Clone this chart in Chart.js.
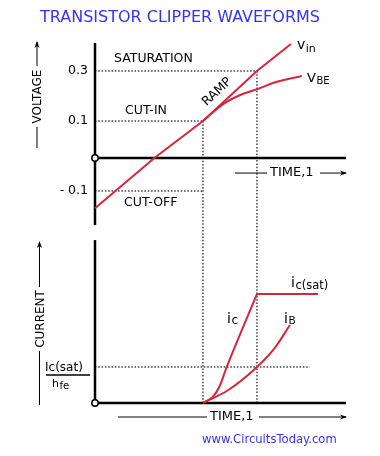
<!DOCTYPE html>
<html><head><meta charset="utf-8">
<script src="https://cdn.jsdelivr.net/npm/chart.js@4/dist/chart.umd.min.js"></script>
<style>
html,body{margin:0;padding:0;background:#fff;width:380px;height:456px;overflow:hidden;}
#wrap{position:relative;width:380px;height:456px;}
canvas{position:absolute;left:0;}
#c1{top:0;} #c2{top:232px;}
</style></head><body>
<div id="wrap">
<canvas id="c1" width="380" height="232"></canvas>
<canvas id="c2" width="380" height="224"></canvas>
</div>
<script>
// ---------- data (schematic units: time in arbitrary units, t1 = 2, t2 = 3) ----------
const timeEnd = 4.65;
const cutInTime = 2;          // t1 : vin reaches cut-in
const satTime = 3;            // t2 : vin reaches saturation
const voltTickValues = [0.3, 0.1, -0.1];
const voltTickLabels = ['0.3', '0.1', '- 0.1'];
const vinTime   = [0, 1.1, 2, 3, 3.63];
const vinValues = [-0.152, 0, 0.1, 0.3, 0.408];
const vbeTime   = [2, 2.38, 2.69, 3, 3.37, 3.83];
const vbeValues = [0.1, 0.168, 0.204, 0.227, 0.257, 0.28];
const icTime    = [2, 2.19, 2.31, 2.44, 3, 4.13];
const icValues  = [0, 0.06, 0.156, 0.33, 1, 1];
const ibTime    = [2, 2.47, 3, 3.35, 3.61];
const ibValues  = [0, 0.119, 0.33, 0.518, 0.716];
const icSatOverHfe = 0.33;    // Ic(sat)/hfe level (Ic(sat) = 1)
const hfeGuideEnd = 3.98;

const RED = '#d6263e', DOT = '#404040', BLUE = '#3434f0';
const FONT = '"DejaVu Sans", Verdana, sans-serif';

// ---------- schematic (piecewise-linear) voltage scale ----------
const LinearScale = Chart.LinearScale || Chart.registry.getScale('linear');
class SchematicScale extends LinearScale {
  warp(v) {
    const s = this.options.stops; let i = 0;
    if (v >= s[s.length-1][0]) i = s.length - 2;
    else if (v > s[0][0]) { while (v > s[i+1][0]) i++; }
    const [v0,p0] = s[i], [v1,p1] = s[i+1];
    return p0 + (v - v0) * (p1 - p0) / (v1 - v0);
  }
  unwarp(p) {
    const s = this.options.stops; let i = 0;
    if (p >= s[s.length-1][1]) i = s.length - 2;
    else if (p > s[0][1]) { while (p > s[i+1][1]) i++; }
    const [v0,p0] = s[i], [v1,p1] = s[i+1];
    return v0 + (p - p0) * (v1 - v0) / (p1 - p0);
  }
  determineDataLimits() { this.min = this.warp(this.options.min); this.max = this.warp(this.options.max); }
  buildTicks() { return (this.options.tickValues || []).map(v => ({value: v})); }
  getPixelForValue(v) { return (v === null || v === undefined) ? NaN : super.getPixelForValue(this.warp(v)); }
  getValueForPixel(p) { return this.unwarp(super.getValueForPixel(p)); }
}
SchematicScale.id = 'schematic';
SchematicScale.defaults = {};
Chart.register(SchematicScale);

const pts = (xs, ys) => xs.map((x, i) => ({x, y: ys[i]}));
function ds(data, color, width, extra) {
  return Object.assign({data, borderColor: color, backgroundColor: color, borderWidth: width,
    pointRadius: 0, fill: false, clip: false, tension: 0}, extra || {});
}
const guide = d => ds(d, DOT, 1.5, {borderDash: [1.5, 1.8], order: 4});
const axisLine = d => ds(d, '#000', 2.5, {order: 3});
const origin = () => ds([{x: 0, y: 0}], '#000', 1.5, {showLine: false, pointRadius: 3.2,
  pointBackgroundColor: '#fff', pointBorderColor: '#000', pointBorderWidth: 1.5, order: 0});

function arrowLine(ctx, x1, y1, x2, y2, head) {
  ctx.beginPath(); ctx.moveTo(x1, y1); ctx.lineTo(x2, y2); ctx.stroke();
  if (head) {
    const a = Math.atan2(y2 - y1, x2 - x1);
    ctx.save(); ctx.translate(x2, y2); ctx.rotate(a);
    ctx.beginPath(); ctx.moveTo(1, 0); ctx.lineTo(-6, -2.6); ctx.lineTo(-4, 0); ctx.lineTo(-6, 2.6); ctx.closePath(); ctx.fill();
    ctx.restore();
  }
}
function sub(ctx, x, y, main, mainSize, s, subSize, dy) {
  ctx.textAlign = 'left'; ctx.textBaseline = 'alphabetic';
  ctx.font = mainSize + 'px ' + FONT; ctx.fillText(main, x, y);
  const w = ctx.measureText(main).width;
  ctx.font = subSize + 'px ' + FONT; ctx.fillText(s, x + w + 0.5, y + dy);
}

const vMin = -0.224, vMax = 0.412, vAxisLow = -0.203;
const iMax = 1.569, iAxisTop = 1.495;

// ---------- top chart: voltage ----------
const topPlugin = {
  id: 'topLabels',
  afterDraw(chart) {
    const ctx = chart.ctx, X = t => chart.scales.x.getPixelForValue(t), Y = v => chart.scales.y.getPixelForValue(v);
    ctx.save();
    ctx.fillStyle = BLUE; ctx.font = '16px ' + FONT; ctx.textAlign = 'center'; ctx.textBaseline = 'middle';
    ctx.fillText('TRANSISTOR CLIPPER WAVEFORMS', 180, 18);
    ctx.fillStyle = '#000'; ctx.strokeStyle = '#000'; ctx.lineWidth = 1;
    ctx.font = '12.5px ' + FONT; ctx.textAlign = 'left';
    ctx.fillText('SATURATION', 114, Y(0.3) - 12);
    ctx.fillText('CUT-IN', 125, Y(0.1) - 10);
    ctx.fillText('CUT-OFF', 124, Y(-0.1) + 12);
    // TIME,1 arrow
    const ty = Y(0) + 15;
    ctx.font = '13px ' + FONT; ctx.fillText('TIME,1', 270, ty);
    arrowLine(ctx, 235, ty, 267, ty, false);
    arrowLine(ctx, 320, ty, 346, ty, true);
    // VOLTAGE axis title
    ctx.save(); ctx.translate(37, 96.5); ctx.rotate(-Math.PI / 2);
    ctx.font = '12px ' + FONT; ctx.textAlign = 'center'; ctx.fillText('VOLTAGE', 0, 0.5); ctx.restore();
    arrowLine(ctx, 37, 148, 37, 127, false);
    arrowLine(ctx, 37, 66, 37, 42, true);
    // RAMP
    ctx.save(); ctx.translate(217, 92); ctx.rotate(-43 * Math.PI / 180);
    ctx.font = '12.5px ' + FONT; ctx.textAlign = 'center'; ctx.fillText('RAMP', 0, 0); ctx.restore();
    // vin, VBE
    sub(ctx, 297, 49, 'v', 14, 'in', 11, 2.5);
    sub(ctx, 307, 81.5, 'V', 13, 'BE', 10, 2);
    ctx.restore();
  }
};

new Chart(document.getElementById('c1'), {
  type: 'line',
  data: { datasets: [
    guide([{x: 0, y: 0.3}, {x: satTime, y: 0.3}]),
    guide([{x: 0, y: 0.1}, {x: cutInTime, y: 0.1}]),
    guide([{x: 0, y: -0.1}, {x: cutInTime, y: -0.1}]),
    guide([{x: cutInTime, y: 0.1}, {x: cutInTime, y: vMin}]),
    guide([{x: satTime, y: 0.3}, {x: satTime, y: vMin}]),
    axisLine([{x: 0, y: vAxisLow}, {x: 0, y: vMax}]),
    axisLine([{x: 0, y: 0}, {x: timeEnd, y: 0}]),
    ds(pts(vinTime, vinValues), RED, 2, {order: 1}),
    ds(pts(vbeTime, vbeValues), RED, 2, {order: 1, tension: 0.4}),
    origin()
  ]},
  options: {
    responsive: false, animation: false, events: [],
    layout: { autoPadding: false, padding: {left: 0, right: 34, top: 43, bottom: 0} },
    plugins: { legend: {display: false}, tooltip: {enabled: false}, title: {display: false} },
    scales: {
      x: { type: 'linear', min: 0, max: timeEnd, display: false },
      y: { type: 'schematic', position: 'left', min: vMin, max: vMax,
           stops: [[-0.1, -33], [0, 0], [0.1, 37], [0.3, 87]],
           tickValues: voltTickValues,
           grid: {display: false, drawTicks: false}, border: {display: false},
           ticks: { color: '#000', padding: 7, font: {family: FONT, size: 12.5},
                    callback: (v, i) => voltTickLabels[i] },
           afterFit: s => { s.width = 95; s.paddingTop = 0; s.paddingBottom = 0; } }
    }
  },
  plugins: [topPlugin]
});

// ---------- bottom chart: current ----------
const OFF = 232;
const botPlugin = {
  id: 'botLabels',
  afterDraw(chart) {
    const ctx = chart.ctx, X = t => chart.scales.x.getPixelForValue(t), Y = v => chart.scales.y.getPixelForValue(v);
    ctx.save(); ctx.translate(0, -OFF);
    ctx.fillStyle = '#000'; ctx.strokeStyle = '#000'; ctx.lineWidth = 1;
    // CURRENT axis title
    ctx.save(); ctx.translate(40, 319); ctx.rotate(-Math.PI / 2);
    ctx.font = '12px ' + FONT; ctx.textAlign = 'center'; ctx.textBaseline = 'middle';
    ctx.fillText('CURRENT', 0, 0.5); ctx.restore();
    arrowLine(ctx, 39.5, 405, 39.5, 351, false);
    arrowLine(ctx, 39.5, 287, 39.5, 242, true);
    // Ic(sat)/hfe fraction
    const fy = Y(icSatOverHfe) + OFF;
    ctx.textBaseline = 'alphabetic'; ctx.textAlign = 'left';
    ctx.font = '12px ' + FONT; ctx.fillText('Ic(sat)', 45, fy + 4);
    ctx.lineWidth = 1.5; ctx.beginPath(); ctx.moveTo(46, fy + 8); ctx.lineTo(90, fy + 8); ctx.stroke();
    ctx.lineWidth = 1;
    sub(ctx, 52, fy + 20, 'h', 11, 'fe', 10, 1.5);
    // curve labels
    sub(ctx, 291, 287, 'i', 14, 'c(sat)', 11.5, 2);
    sub(ctx, 227, 323, 'i', 14, 'c', 12, 1);
    sub(ctx, 284, 323, 'i', 14, 'B', 10.5, 1);
    // TIME,1 arrow
    const ty = Y(0) + OFF + 14;
    ctx.textBaseline = 'middle'; ctx.font = '13px ' + FONT; ctx.fillText('TIME,1', 210, ty);
    arrowLine(ctx, 118, ty, 207, ty, false);
    arrowLine(ctx, 259, ty, 346, ty, true);
    // footer
    ctx.fillStyle = BLUE; ctx.font = '11.6px ' + FONT; ctx.fillText('www.CircuitsToday.com', 202, 440);
    ctx.restore();
  }
};

new Chart(document.getElementById('c2'), {
  type: 'line',
  data: { datasets: [
    guide([{x: 0, y: icSatOverHfe}, {x: hfeGuideEnd, y: icSatOverHfe}]),
    guide([{x: cutInTime, y: 0}, {x: cutInTime, y: iMax}]),
    guide([{x: satTime, y: 0}, {x: satTime, y: iMax}]),
    axisLine([{x: 0, y: 0}, {x: 0, y: iAxisTop}]),
    axisLine([{x: 0, y: 0}, {x: timeEnd, y: 0}]),
    ds(pts(icTime.slice(0, 5), icValues.slice(0, 5)), RED, 2, {order: 1, cubicInterpolationMode: 'monotone'}),
    ds(pts(icTime.slice(4), icValues.slice(4)), RED, 2.2, {order: 1}),
    ds(pts(ibTime, ibValues), RED, 2, {order: 1, cubicInterpolationMode: 'monotone'}),
    origin()
  ]},
  options: {
    responsive: false, animation: false, events: [],
    layout: { autoPadding: false, padding: {left: 95, right: 34, top: 0, bottom: 53} },
    plugins: { legend: {display: false}, tooltip: {enabled: false}, title: {display: false} },
    scales: {
      x: { type: 'linear', min: 0, max: timeEnd, display: false },
      y: { type: 'linear', min: 0, max: iMax, display: false }
    }
  },
  plugins: [botPlugin]
});
</script>
</body></html>
